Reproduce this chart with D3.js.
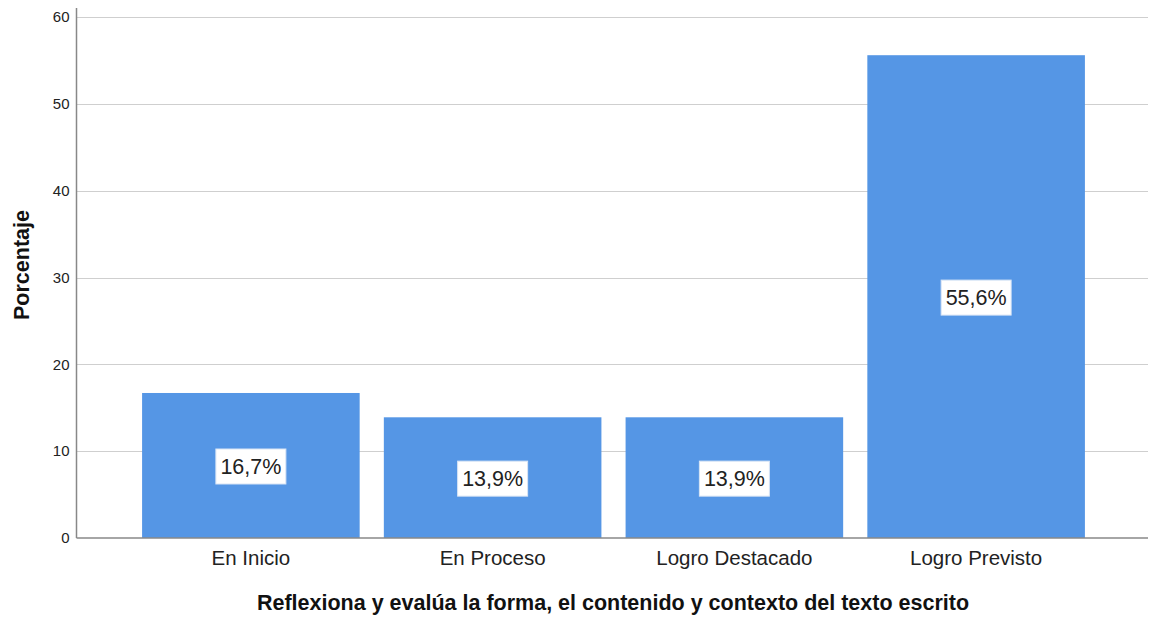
<!DOCTYPE html>
<html><head><meta charset="utf-8">
<script src="https://cdn.jsdelivr.net/npm/d3@7"></script>
<style>body{margin:0;background:#fff}svg{display:block}</style>
</head><body><svg id="c" width="1150" height="619"></svg>
<script>
const categories = ["En Inicio", "En Proceso", "Logro Destacado", "Logro Previsto"];
const values = [16.7, 13.9, 13.9, 55.6];
const valueLabels = ["16,7%", "13,9%", "13,9%", "55,6%"];
const yTicks = [0, 10, 20, 30, 40, 50, 60];
const xTitle = "Reflexiona y evalúa la forma, el contenido y contexto del texto escrito";
const yTitle = "Porcentaje";

(function () {
const svg = d3.select("#c");
const font = "Arial, 'Liberation Sans', sans-serif";
const mLeft = 76.5, mRight = 1148, mTop = 17, mBottom = 538;
const y = d3.scaleLinear().domain([0, 60]).range([mBottom, mTop]);
const x = d3.scaleBand().domain(categories).range([130, 1097]).paddingInner(0.1).paddingOuter(0.05);

// gridlines
svg.append("g").selectAll("line").data(yTicks.filter(d => d > 0)).join("line")
  .attr("x1", mLeft).attr("x2", mRight)
  .attr("y1", d => Math.round(y(d)) + 0.5).attr("y2", d => Math.round(y(d)) + 0.5)
  .attr("stroke", "#cfcfcf").attr("stroke-width", 1.2);

// bars
svg.append("g").selectAll("rect").data(values).join("rect")
  .attr("x", (d, i) => x(categories[i]))
  .attr("width", x.bandwidth())
  .attr("y", d => y(d))
  .attr("height", d => mBottom - y(d))
  .attr("fill", "#5596e5");

// y axis
const yAxis = svg.append("g").attr("transform", `translate(${mLeft},0)`)
  .call(d3.axisLeft(y).tickValues(yTicks).tickSize(0).tickPadding(7));
yAxis.select(".domain").attr("stroke", "#888").attr("stroke-width", 1.5).attr("d", `M0,8V${mBottom}`);
yAxis.selectAll("text").attr("font-family", font).attr("font-size", 15).attr("fill", "#222");

// x axis
const xAxis = svg.append("g").attr("transform", `translate(0,${mBottom})`)
  .call(d3.axisBottom(x).tickSize(0).tickPadding(12));
xAxis.select(".domain").attr("stroke", "#888").attr("stroke-width", 1.5).attr("d", `M${mLeft},0H${mRight}`);
xAxis.selectAll("text").attr("font-family", font).attr("font-size", 20.5).attr("fill", "#222");

// value labels
const lab = svg.append("g").selectAll("g").data(values).join("g")
  .attr("transform", (d, i) => `translate(${x(categories[i]) + x.bandwidth() / 2},${(y(d) + mBottom) / 2 + 1})`);
lab.append("rect").attr("x", -35).attr("y", -17.5).attr("width", 70).attr("height", 35)
  .attr("fill", "#fff").attr("stroke", "#d8e4f5").attr("stroke-width", 1);
lab.append("text").text((d, i) => valueLabels[i])
  .attr("text-anchor", "middle").attr("dy", "0.36em")
  .attr("font-family", font).attr("font-size", 21.5).attr("fill", "#222");

// titles
svg.append("text").attr("x", 613).attr("y", 610)
  .attr("text-anchor", "middle").attr("font-family", font).attr("font-size", 21.5)
  .attr("font-weight", "bold").attr("fill", "#111").text(xTitle);
svg.append("text").attr("transform", "translate(29,265) rotate(-90)")
  .attr("text-anchor", "middle").attr("font-family", font).attr("font-size", 21.5)
  .attr("font-weight", "bold").attr("fill", "#111").text(yTitle);
})();
</script></body></html>
